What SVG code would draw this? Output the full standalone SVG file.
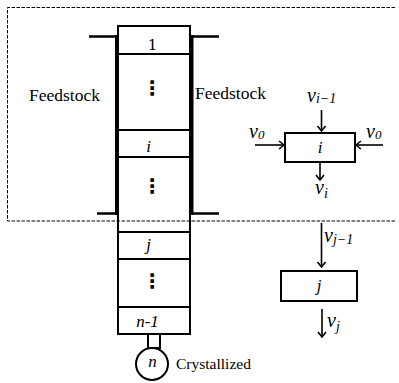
<svg xmlns="http://www.w3.org/2000/svg" width="399" height="383" viewBox="0 0 399 383">
<defs>
<marker id="ah" markerWidth="10" markerHeight="10" refX="8" refY="5" orient="auto" markerUnits="userSpaceOnUse">
<path d="M3,1 L8,5 L3,9" fill="none" stroke="#000" stroke-width="1.6"/>
</marker>
<style>
.thin{fill:none;stroke:#000;stroke-width:2}
.thick{fill:none;stroke:#000;stroke-width:4}
.jk{fill:none;stroke:#000;stroke-width:2.5}
.dash{fill:none;stroke:#000;stroke-width:1;stroke-dasharray:3.5,1.5}
.arr{fill:none;stroke:#000;stroke-width:1.6;marker-end:url(#ah)}
.num{font-family:'DejaVu Serif',serif;fill:#000}
.dots{font-family:'DejaVu Sans',sans-serif;font-weight:bold;fill:#000}
</style>
</defs>
<path class="dash" d="M395,7.5 H7.5 V221 H395"/>
<g id="column">
<rect class="thin" x="118" y="26" width="72" height="308"/>
<line class="thin" x1="118" y1="54" x2="190" y2="54"/>
<line class="thin" x1="118" y1="130" x2="190" y2="130"/>
<line class="thin" x1="118" y1="157" x2="190" y2="157"/>
<line class="thin" x1="118" y1="232" x2="190" y2="232"/>
<line class="thin" x1="118" y1="259" x2="190" y2="259"/>
<line class="thin" x1="118" y1="307" x2="190" y2="307"/>
<line class="thick" x1="117" y1="35" x2="117" y2="215"/>
<line class="thick" x1="191.5" y1="35" x2="191.5" y2="215"/>
<line class="jk" x1="89" y1="36.5" x2="117" y2="36.5"/>
<line class="jk" x1="191.5" y1="36.5" x2="219" y2="36.5"/>
<line class="jk" x1="97" y1="213.5" x2="117" y2="213.5"/>
<line class="jk" x1="191.5" y1="213.5" x2="219" y2="213.5"/>
<text class="num" x="152.5" y="50" font-size="15" text-anchor="middle">1</text>
<text class="dots" x="152" y="95" font-size="20" text-anchor="middle">⋮</text>
<text font-family="Liberation Serif, serif" font-style="italic" x="148.5" y="151.5" font-size="17" text-anchor="middle">i</text>
<text class="dots" x="152" y="193" font-size="20" text-anchor="middle">⋮</text>
<text font-family="Liberation Serif, serif" font-style="italic" x="148.5" y="249.5" font-size="17" text-anchor="middle">j</text>
<text class="dots" x="152" y="288" font-size="20" text-anchor="middle">⋮</text>
<text font-family="Liberation Serif, serif" font-style="italic" x="147.5" y="327" font-size="17" text-anchor="middle">n-1</text>
</g>
<g id="crystallizer">
<rect class="thin" x="148" y="334" width="12" height="14"/>
<circle class="thin" cx="152" cy="364" r="16" fill="#fff"/>
<text font-family="Liberation Serif, serif" font-style="italic" x="152.5" y="367" font-size="17" text-anchor="middle">n</text>
<text font-family="Liberation Serif, serif" x="176" y="369" font-size="15.5">Crystallized</text>
</g>
<g id="feed-left"><text font-family="Liberation Serif, serif" x="29" y="101" font-size="17.5">Feedstock</text></g>
<g id="feed-right"><text font-family="Liberation Serif, serif" x="195" y="98.5" font-size="17.5">Feedstock</text></g>
<g id="stage-i">
<rect class="thin" x="285" y="133" width="70" height="29"/>
<text font-family="Liberation Serif, serif" font-style="italic" x="320" y="153" font-size="17" text-anchor="middle">i</text>
</g>
<g id="stage-j">
<rect class="thin" x="281" y="271" width="76" height="30"/>
<text font-family="Liberation Serif, serif" font-style="italic" x="319" y="291" font-size="17" text-anchor="middle">j</text>
</g>
<g id="connectors">
<line class="arr" x1="321.5" y1="110" x2="321.5" y2="131"/>
<line class="arr" x1="255" y1="145" x2="284" y2="145"/>
<line class="arr" x1="383" y1="145" x2="356" y2="145"/>
<line class="arr" x1="320" y1="162" x2="320" y2="180"/>
<line class="arr" x1="321.5" y1="223" x2="321.5" y2="267"/>
<line class="arr" x1="322" y1="309" x2="322" y2="337"/>
</g>
<g id="labels" font-family="Liberation Serif, serif" font-style="italic">
<text x="307" y="102" font-size="20">v<tspan font-size="14" dy="1">i−1</tspan></text>
<text x="249" y="138" font-size="20">v<tspan font-size="13" dy="1">0</tspan></text>
<text x="366" y="138" font-size="20">v<tspan font-size="13" dy="1">0</tspan></text>
<text x="315" y="194" font-size="20">v<tspan font-size="14" dy="4">i</tspan></text>
<text x="324" y="242" font-size="20">v<tspan font-size="14" dy="2">j−1</tspan></text>
<text x="327" y="327" font-size="20">v<tspan font-size="14" dy="4">j</tspan></text>
</g>
</svg>
